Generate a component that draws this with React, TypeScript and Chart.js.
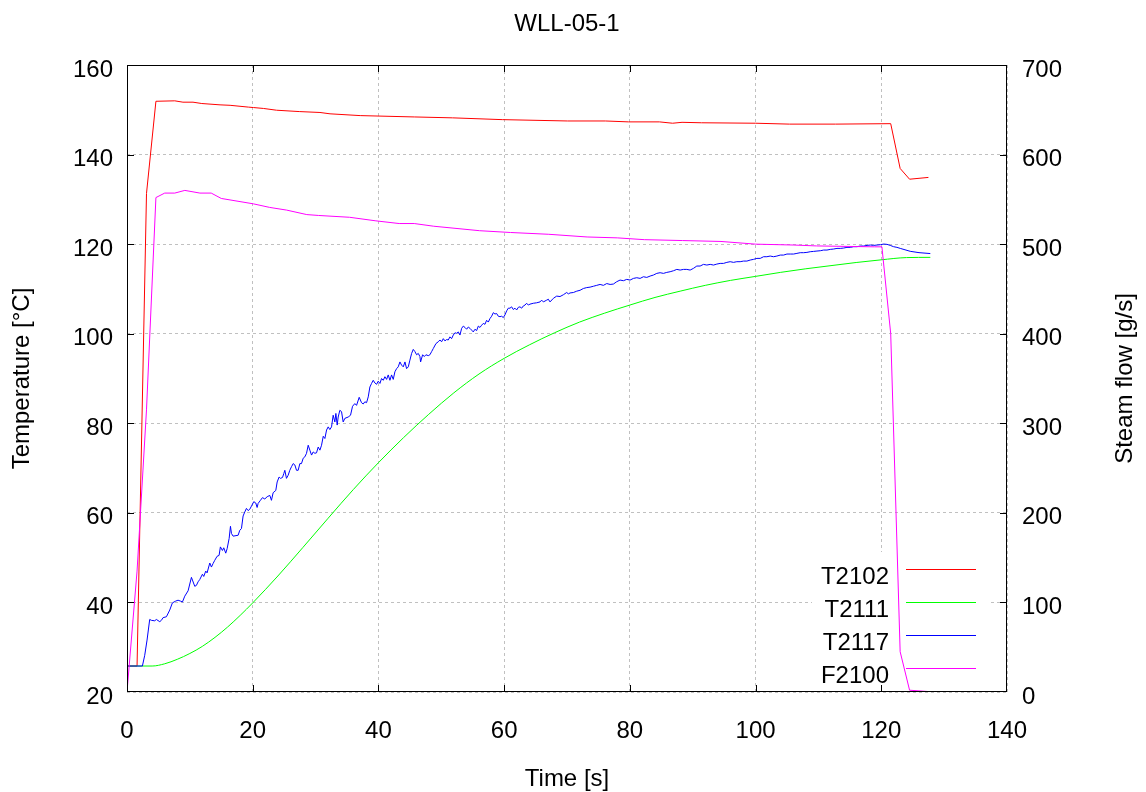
import React, { useEffect, useRef } from "react";
import { Chart, registerables } from "chart.js";

Chart.register(...registerables);

const FONT_FAMILY = "'Liberation Sans', Arial, Helvetica, sans-serif";
const FONT_SIZE = 24;

const chartTitle = "WLL-05-1";
const xAxisTitle = "Time [s]";
const yLeftTitle = "Temperature [°C]";
const yRightTitle = "Steam flow [g/s]";

const xMin = 0;
const xMax = 140;
const xStep = 20;
const tempTicks = [20, 40, 60, 80, 100, 120, 140, 160];
const flowTicks = [0, 100, 200, 300, 400, 500, 600, 700];

const seriesNames = ["T2102", "T2111", "T2117", "F2100"];
const seriesColors = ["#ff0000", "#00ff00", "#0000ff", "#ff00ff"];

// T2102 (left axis, °C)
const t2102Time = [0, 1.6, 3.1, 4.6, 7.6, 8.9, 10.5, 11.9, 14.8, 16.4, 19.3, 20.1, 21.7, 23.8, 27.4, 30.7, 32.3, 37.1, 45.7, 51.8, 59.7, 70.1, 76.1, 79.8, 84.7, 86.8, 88.3, 91.4, 100.0, 105.4, 112.7, 121.5, 123.0, 124.5, 127.5];
const t2102Temp = [25.8, 25.8, 131.3, 151.9, 152.0, 151.7, 151.7, 151.4, 151.1, 151.0, 150.6, 150.5, 150.3, 149.9, 149.6, 149.4, 149.1, 148.7, 148.4, 148.2, 147.8, 147.5, 147.5, 147.3, 147.3, 147.0, 147.2, 147.1, 147.0, 146.8, 146.8, 146.9, 136.9, 134.5, 134.9];

// T2111 (left axis, °C)
const t2111Time = [0, 4, 6, 8, 10, 12, 14, 16, 18, 20, 24, 28, 32, 36, 40, 44, 48, 52, 56, 60, 64, 68, 72, 76, 80, 84, 88, 92, 96, 100, 104, 108, 112, 116, 120, 124, 127.8];
const t2111Temp = [25.8, 25.8, 26.3, 27.3, 28.6, 30.2, 32.2, 34.5, 37.1, 39.9, 45.9, 52.3, 58.8, 65.2, 71.2, 76.8, 82.0, 86.8, 91.0, 94.5, 97.5, 100.2, 102.6, 104.6, 106.4, 108.1, 109.5, 110.8, 111.9, 112.8, 113.7, 114.5, 115.2, 115.9, 116.5, 117.0, 117.05];

// T2117 (left axis, °C)
const t2117Time = [
  0, 2.45, 2.82, 3.19, 3.61, 3.88, 4.41, 4.67, 5.21, 5.47, 5.74, 6.27, 6.8, 7.22, 7.75, 8.12, 8.5, 8.82, 9.19, 9.72,
  10.25, 10.41, 10.78, 11.04, 11.31, 11.57, 12.0, 12.21, 12.53, 12.74, 13.17, 13.43, 13.7, 13.96, 14.33, 14.65, 14.86, 15.18, 15.39, 15.71,
  15.93, 16.25, 16.46, 16.62, 16.88, 17.68, 17.94, 18.21, 18.47, 18.74, 19.0, 19.27, 19.53, 19.8, 20.17, 20.49, 20.7, 20.86, 21.23, 21.55,
  21.92, 22.3, 22.72, 22.98, 23.25, 23.67, 23.89, 24.2, 24.42, 24.74, 24.95, 25.11, 25.37, 25.64, 25.9, 26.17, 26.44, 26.7, 26.97, 27.23,
  27.5, 27.76, 28.03, 28.29, 28.56, 28.83, 29.09, 29.36, 29.62, 29.89, 30.15, 30.42, 30.69, 30.95, 31.22, 31.48, 31.75, 32.01,
  32.27, 32.54, 32.8, 33.07, 33.23, 33.44, 33.6, 33.86, 34.13, 34.39, 34.66, 35.19, 35.56, 35.88, 36.25, 36.52, 36.94, 37.31, 37.58, 37.84,
  38.11, 38.38, 38.64, 38.91, 39.17, 39.44, 39.71, 39.97, 40.24, 40.5, 40.77, 41.03, 41.3, 41.56, 41.83, 42.09, 42.36, 42.62, 42.89, 43.15,
  43.42, 43.68, 43.95, 44.22, 44.48, 44.75, 45.01, 45.28, 45.54, 45.81, 46.07, 46.34, 46.6, 46.71, 47.03, 47.29, 47.56, 47.93, 48.19, 48.46,
  48.73, 49.15, 49.52, 49.79, 50.05, 50.32, 50.58, 50.85, 51.11, 51.38, 51.64, 51.91, 52.17, 52.44, 52.71, 52.97, 53.24, 53.5, 53.77, 54.03,
  54.3, 54.56, 54.83, 55.09, 55.36, 55.62, 55.89, 56.15, 56.42, 56.68, 56.95, 57.21, 57.48, 57.75, 58.01, 58.28, 58.54, 58.81, 59.07, 59.34,
  59.6, 59.87, 60.13, 60.4, 60.66, 60.93, 61.19, 61.46, 61.72, 61.99, 62.26, 62.52, 62.79, 63.05, 63.32, 63.58, 63.85, 64.11, 64.64, 65.17,
  65.71, 65.97, 66.24, 66.77, 67.03, 67.3, 67.83, 68.36, 68.89, 69.42, 69.95, 70.22, 70.48, 71.01, 71.55, 72.08, 72.61, 73.14, 73.67, 74.2,
  74.73, 75.26, 75.79, 76.32, 76.86, 77.38, 77.91, 78.44, 78.97, 79.5, 80.04, 80.57, 81.1, 81.63, 82.16, 82.69, 83.22, 83.75, 84.28, 84.81,
  85.34, 85.87, 86.41, 86.94, 87.47, 88.0, 88.53, 89.06, 89.59, 90.12, 90.65, 91.18, 91.71, 92.25, 92.78, 93.31, 93.84, 94.37, 94.9, 95.43,
  95.96, 96.49, 97.02, 97.55, 98.09, 98.62, 99.15, 99.68, 100.21, 100.74, 101.27, 101.8, 102.33, 102.86, 103.39, 103.93, 104.46, 104.99, 105.52, 106.05,
  106.58, 107.11, 107.64, 108.17, 108.7, 109.23, 109.77, 110.3, 110.83, 111.36, 111.89, 112.42, 112.95, 113.48, 114.01, 114.54, 115.07, 115.61, 116.14, 116.67,
  117.2, 117.73, 118.26, 118.79, 119.32, 119.85, 120.38, 120.91, 121.43, 121.96, 122.49, 123.02, 124.6, 126.0, 127.8
];
const t2117Temp = [
  25.8, 25.8, 28.2, 31.6, 36.2, 36.0, 35.9, 36.2, 35.7, 36.0, 36.6, 36.8, 38.3, 39.9, 40.3, 40.5, 40.3, 40.1, 41.4, 42.6,
  45.6, 45.0, 43.6, 43.8, 44.6, 45.1, 46.3, 45.8, 47.0, 46.6, 48.8, 47.9, 48.7, 49.4, 50.3, 50.5, 52.4, 51.6, 52.2, 51.0,
  52.0, 54.3, 57.0, 55.4, 54.8, 55.0, 56.1, 56.5, 59.3, 60.2, 61.0, 60.5, 60.8, 61.5, 62.5, 62.2, 61.2, 62.1, 62.8, 63.4,
  63.1, 63.6, 63.9, 62.8, 64.5, 65.0, 66.9, 68.0, 67.7, 67.9, 68.8, 69.5, 67.7, 68.4, 69.5, 70.3, 71.0, 70.7, 69.5, 69.5,
  71.0, 71.0, 72.2, 72.5, 73.3, 75.1, 74.0, 72.9, 73.6, 73.3, 73.4, 74.7, 74.0, 75.1, 77.1, 76.6, 78.5, 79.2,
  78.6, 79.2, 81.8, 80.3, 82.2, 79.6, 81.4, 82.9, 82.6, 80.3, 81.1, 81.4, 81.8, 83.8, 84.4, 84.0, 85.8, 84.6, 84.3, 84.8,
  84.6, 85.9, 88.1, 88.9, 89.6, 89.0, 88.7, 89.4, 88.9, 90.0, 89.6, 90.4, 89.8, 90.8, 89.6, 90.8, 89.8, 91.5, 92.2, 92.6,
  93.7, 93.0, 92.6, 93.7, 92.2, 92.6, 94.1, 95.6, 96.5, 96.0, 95.3, 95.6, 94.9, 93.7, 95.3, 94.9, 95.3, 95.1, 95.3, 96.0,
  96.7, 97.8, 98.2, 98.6, 98.2, 98.9, 98.4, 98.7, 98.6, 99.3, 98.9, 99.7, 100.2, 100.1, 100.4, 99.7, 101.2, 101.7, 101.4, 101.0,
  101.5, 101.2, 100.8, 100.4, 101.0, 100.7, 101.7, 101.4, 101.9, 102.3, 102.1, 103.0, 102.6, 103.4, 103.9, 104.7, 104.4, 104.5, 103.9, 103.8,
  103.9, 103.6, 104.2, 105.1, 105.7, 105.7, 106.0, 105.4, 105.7, 105.3, 105.9, 106.0, 105.7, 106.2, 106.4, 106.8, 106.4, 106.6, 106.8, 106.9,
  107.1, 107.5, 107.1, 107.5, 107.7, 107.1, 107.9, 108.4, 108.3, 108.7, 109.2, 108.9, 109.1, 109.2, 109.5, 109.7, 110.1, 110.3, 110.4, 110.6,
  110.8, 111.0, 110.8, 111.2, 111.0, 111.09, 111.61, 111.98, 111.83, 112.13, 111.98, 112.35, 112.5, 112.35, 112.72, 112.57, 112.87, 113.1, 113.47, 113.62,
  113.47, 113.69, 113.84, 114.06, 114.36, 114.21, 114.36, 114.36, 114.21, 114.59, 115.11, 115.11, 115.48, 115.33, 115.48, 115.33, 115.55, 115.7, 115.7, 115.93,
  116.08, 115.93, 116.08, 116.08, 116.22, 116.22, 116.45, 116.6, 116.82, 116.82, 117.19, 117.19, 117.34, 117.19, 117.34, 117.56, 117.56, 117.79, 117.79, 117.79,
  117.94, 118.09, 118.09, 118.16, 118.31, 118.38, 118.46, 118.53, 118.68, 118.68, 118.83, 118.91, 119.05, 119.05, 119.13, 119.28, 119.28, 119.43, 119.43, 119.58,
  119.58, 119.72, 119.8, 119.72, 119.8, 119.87, 120.02, 119.95, 119.72, 119.43, 119.28, 119.05, 118.4, 118.1, 117.9
];

// F2100 (right axis, g/s)
const f2100Time = [0, 1.6, 3.1, 4.6, 6.0, 7.6, 9.2, 11.6, 13.4, 15.0, 20.1, 22.7, 25.4, 28.6, 30.5, 35.4, 39.6, 43.3, 45.7, 48.8, 56.1, 61.0, 67.1, 73.2, 78.0, 82.3, 88.4, 94.5, 100.0, 106.1, 109.7, 118.9, 120.1, 121.5, 123.0, 124.5, 127.5];
const f2100Flow = [0, 135, 315, 552, 557, 557, 560, 557, 557, 551, 545, 541, 538, 533, 532, 530, 526, 523, 523, 520, 515, 513, 511, 508, 507, 505, 504, 503, 500, 499, 498, 497, 497, 400, 45, 2, 0.5];

function pairs(xs: number[], ys: number[]) {
  return xs.map((x, i) => ({ x, y: ys[i] }));
}

const font = { family: FONT_FAMILY, size: FONT_SIZE, weight: "normal" as const };
const FONT_CSS = `${FONT_SIZE}px ${FONT_FAMILY}`;

const gnuplotDecor = {
  id: "gnuplotDecor",
  beforeDatasetsDraw(chart: any) {
    const { ctx, chartArea: a } = chart;
    ctx.save();
    ctx.fillStyle = "#ffffff";
    // key area (clears the grid behind the legend)
    ctx.fillRect(812, 552, 178, a.bottom - 552 - 1);
    ctx.restore();
  },
  afterDatasetsDraw(chart: any) {
    const { ctx, chartArea: a, scales } = chart;
    ctx.save();
    ctx.strokeStyle = "#000000";
    ctx.lineWidth = 1;
    ctx.setLineDash([]);
    ctx.strokeRect(a.left + 0.5, a.top + 0.5, a.right - a.left - 1, a.bottom - a.top - 1);
    const tick = 7;
    ctx.beginPath();
    for (let v = xMin + xStep; v < xMax; v += xStep) {
      const px = Math.round(scales.x.getPixelForValue(v)) + 0.5;
      ctx.moveTo(px, a.bottom);
      ctx.lineTo(px, a.bottom - tick);
      ctx.moveTo(px, a.top);
      ctx.lineTo(px, a.top + tick);
    }
    tempTicks.slice(1, -1).forEach((v) => {
      const py = Math.round(scales.y.getPixelForValue(v)) + 0.5;
      ctx.moveTo(a.left, py);
      ctx.lineTo(a.left + tick, py);
    });
    flowTicks.slice(1, -1).forEach((v) => {
      const py = Math.round(scales.y2.getPixelForValue(v)) + 0.5;
      ctx.moveTo(a.right, py);
      ctx.lineTo(a.right - tick, py);
    });
    ctx.stroke();

    ctx.font = FONT_CSS;
    ctx.fillStyle = "#000000";

    // y tick labels (gnuplot places them slightly below the tick)
    ctx.textBaseline = "middle";
    ctx.textAlign = "right";
    tempTicks.forEach((v) => {
      ctx.fillText(String(v), a.left - 14, scales.y.getPixelForValue(v) + 5);
    });
    ctx.textAlign = "left";
    flowTicks.forEach((v) => {
      ctx.fillText(String(v), a.right + 15, scales.y2.getPixelForValue(v) + 5);
    });

    // title
    ctx.textAlign = "center";
    ctx.fillText(chartTitle, (a.left + a.right) / 2, 24);

    // legend
    ctx.textAlign = "right";
    ctx.textBaseline = "alphabetic";
    seriesNames.forEach((name, i) => {
      const y = 569.5 + i * 33;
      ctx.fillStyle = "#000000";
      ctx.fillText(name, 889, y + 14);
      ctx.strokeStyle = seriesColors[i];
      ctx.beginPath();
      ctx.moveTo(906, y);
      ctx.lineTo(976, y);
      ctx.stroke();
    });

    // right axis title (reads bottom to top)
    ctx.save();
    ctx.translate(1125, (a.top + a.bottom) / 2);
    ctx.rotate(-Math.PI / 2);
    ctx.textAlign = "center";
    ctx.textBaseline = "middle";
    ctx.fillStyle = "#000000";
    ctx.fillText(yRightTitle, 0, 0);
    ctx.restore();
    ctx.restore();
  },
};

export default function App() {
  const canvasRef = useRef<HTMLCanvasElement | null>(null);

  useEffect(() => {
    const canvas = canvasRef.current;
    if (!canvas) return;
    const xs = [t2102Time, t2111Time, t2117Time, f2100Time];
    const ys = [t2102Temp, t2111Temp, t2117Temp, f2100Flow];
    const datasets = seriesNames.map((name, i) => ({
      label: name,
      data: pairs(xs[i], ys[i]),
      borderColor: seriesColors[i],
      backgroundColor: seriesColors[i],
      borderWidth: 1,
      pointRadius: 0,
      fill: false,
      tension: 0,
      cubicInterpolationMode: i === 1 ? "monotone" : "default",
      yAxisID: i === 3 ? "y2" : "y",
      order: 4 - i,
    }));

    const chart = new Chart(canvas, {
      type: "line",
      data: { datasets },
      plugins: [gnuplotDecor],
      options: {
        animation: false,
        responsive: false,
        maintainAspectRatio: false,
        devicePixelRatio: 1,
        layout: { padding: { top: 65, left: 0, right: 0, bottom: 0 } },
        plugins: {
          legend: { display: false },
          tooltip: { enabled: false },
          title: { display: false },
        },
        scales: {
          x: {
            type: "linear",
            min: xMin,
            max: xMax,
            ticks: { stepSize: xStep, color: "#000000", font, padding: 25, maxRotation: 0 },
            grid: { color: "#c0c0c0", lineWidth: 1, drawTicks: false },
            border: { display: false, dash: [3, 3] },
            title: { display: true, text: xAxisTitle, color: "#000000", font, padding: { top: 0, bottom: -2 } },
            afterFit(scale: any) {
              scale.height = 100;
            },
          },
          y: {
            type: "linear",
            position: "left",
            min: tempTicks[0],
            max: tempTicks[tempTicks.length - 1],
            ticks: { stepSize: 20, display: false },
            grid: { color: "#c0c0c0", lineWidth: 1, drawTicks: false },
            border: { display: false, dash: [3, 3] },
            title: { display: true, text: yLeftTitle, color: "#000000", font, padding: { top: 8, bottom: 0 } },
            afterFit(scale: any) {
              scale.width = 127;
            },
          },
          y2: {
            type: "linear",
            position: "right",
            min: flowTicks[0],
            max: flowTicks[flowTicks.length - 1],
            ticks: { stepSize: 100, display: false },
            grid: { display: false, drawTicks: false },
            border: { display: false },
            afterFit(scale: any) {
              scale.width = 139;
            },
          },
        },
      },
    } as any);

    return () => {
      chart.destroy();
    };
  }, []);

  return (
    <div style={{ position: "absolute", left: 0, top: 0, width: 1146, height: 792, background: "#ffffff" }}>
      <canvas ref={canvasRef} width={1146} height={792} style={{ display: "block" }} />
    </div>
  );
}
